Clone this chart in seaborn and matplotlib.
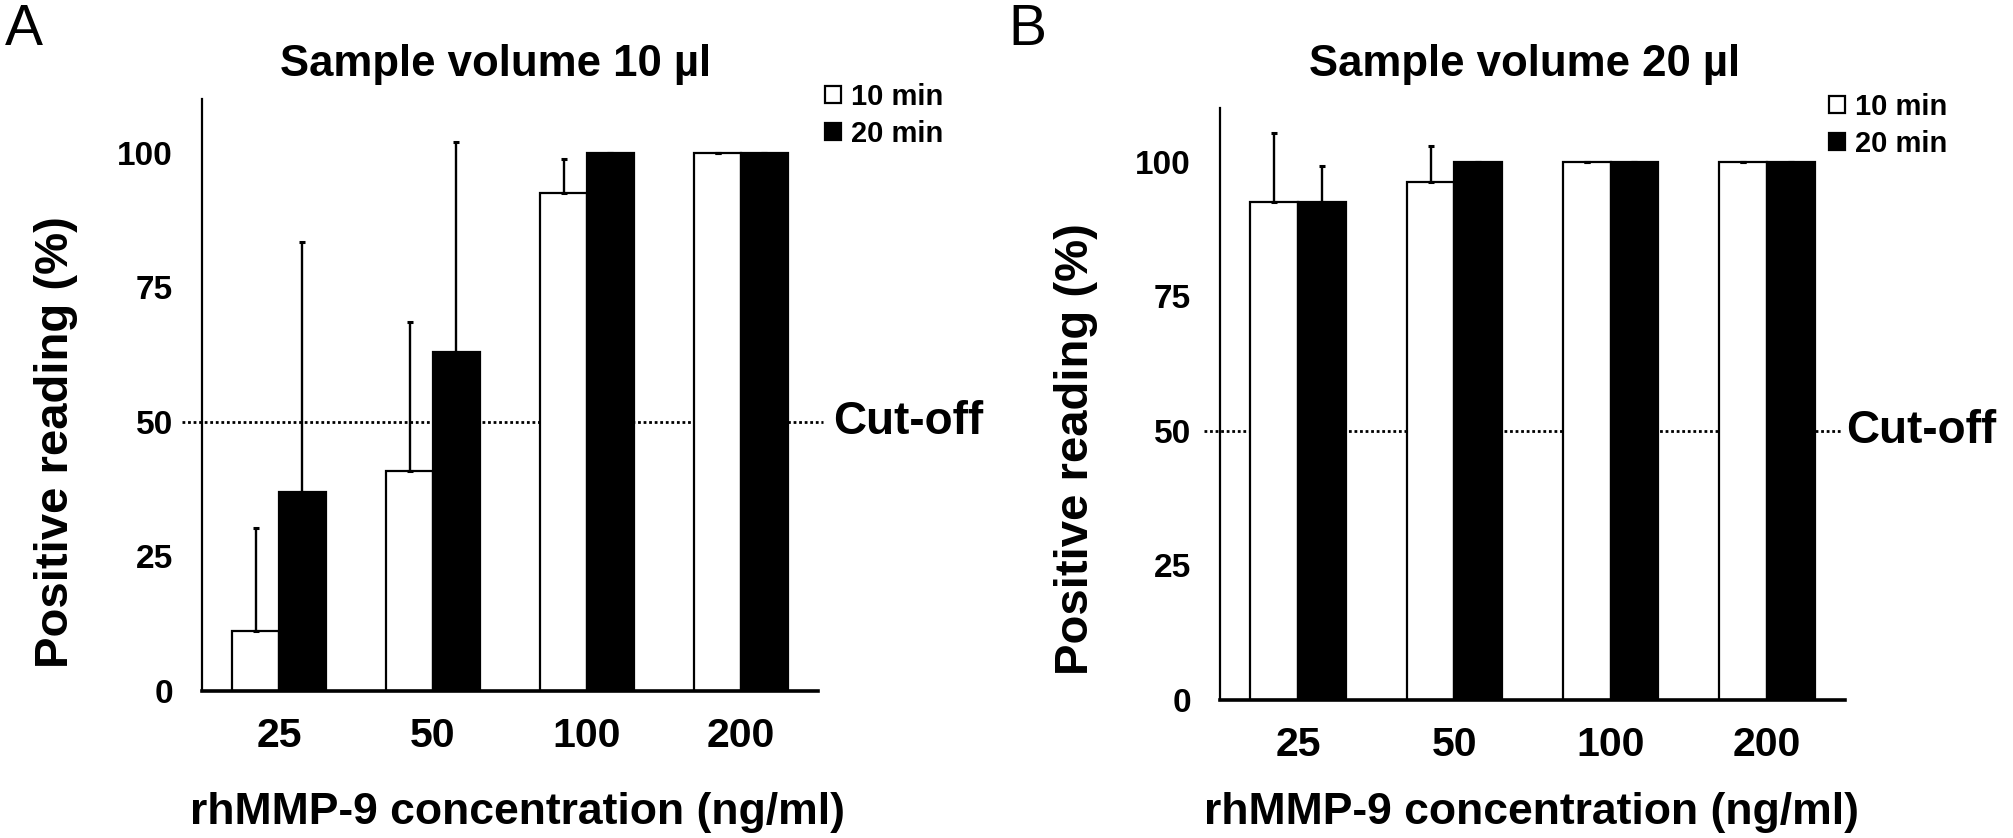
import numpy as np
import pandas as pd
import matplotlib
matplotlib.use("Agg")
import matplotlib.pyplot as plt
import seaborn as sns

# ---------------- data ----------------
concentrations = ["25", "50", "100", "200"]
times = ["10 min", "20 min"]

a_10min = [11.2, 40.8, 92.6, 100.0]
a_10min_err = [19.0, 27.7, 6.2, 0.0]
a_20min = [37.0, 62.9, 100.0, 100.0]
a_20min_err = [46.5, 39.1, 0.0, 0.0]

b_10min = [92.6, 96.3, 100.0, 100.0]
b_10min_err = [12.8, 6.6, 0.0, 0.0]
b_20min = [92.6, 100.0, 100.0, 100.0]
b_20min_err = [6.7, 0.0, 0.0, 0.0]

titles = ["Sample volume 10 \u00b5l", "Sample volume 20 \u00b5l"]
panel_letters = ["A", "B"]
y_ticks = [0, 25, 50, 75, 100]
cutoff_value = 50
cutoff_label = "Cut-off"
x_label = "rhMMP-9 concentration (ng/ml)"
y_label = "Positive reading (%)"

# ---------------- style ----------------
sns.set_theme(style="white")
plt.rcParams["font.family"] = ["Liberation Sans", "DejaVu Sans"]
plt.rcParams["font.weight"] = "bold"
for k in ["text.color", "axes.labelcolor", "xtick.color", "ytick.color", "axes.edgecolor"]:
    plt.rcParams[k] = "black"

W, H = 2013, 838
fig = plt.figure(figsize=(W / 100, H / 100), dpi=100)

def fx(px):
    return px / W

def fy(py):
    return 1 - py / H

panels = [
    dict(rect=(202, 99, 818, 691), v10=a_10min, e10=a_10min_err, v20=a_20min, e20=a_20min_err,
         title_x=496, letter_x=5, cut_x0=-0.63, cut_x1=3.53, cut_tx=3.60,
         leg=(825, 83), ylab=(56, 442), xlab=(518, 812)),
    dict(rect=(1220, 108, 1845, 700), v10=b_10min, e10=b_10min_err, v20=b_20min, e20=b_20min_err,
         title_x=1525, letter_x=1008, cut_x0=-0.60, cut_x1=3.48, cut_tx=3.51,
         leg=(1829, 93), ylab=(1076, 449), xlab=(1532, 812)),
]

for i, p in enumerate(panels):
    x0, y0, x1, y1 = p["rect"]
    ax = fig.add_axes([fx(x0), fy(y1), fx(x1) - fx(x0), (y1 - y0) / H])
    df = pd.DataFrame({
        "conc": concentrations * 2,
        "time": [times[0]] * 4 + [times[1]] * 4,
        "value": list(p["v10"]) + list(p["v20"]),
    })
    sns.barplot(data=df, x="conc", y="value", hue="time", order=concentrations,
                hue_order=times, palette=["white", "black"], edgecolor="black",
                linewidth=1.6, width=0.61, gap=0, errorbar=None, ax=ax, zorder=2)
    errs = [p["e10"], p["e20"]]
    for cont, err in zip(ax.containers, errs):
        xs = [r.get_x() + r.get_width() / 2 for r in cont.patches]
        ys = [r.get_height() for r in cont.patches]
        ax.errorbar(xs, ys, yerr=[np.zeros(len(err)), err], fmt="none", ecolor="black",
                    elinewidth=1.7, capsize=2.2, capthick=2.2, zorder=3)

    ax.set_xlim(-0.5, 3.5)
    ax.set_ylim(0, 110)
    ax.set_yticks(y_ticks)
    ax.set_yticklabels([str(t) for t in y_ticks])
    ax.tick_params(axis="y", length=0, pad=21, labelsize=24, labelcolor="black")
    ax.tick_params(axis="x", length=0, pad=19, labelsize=29.5, labelcolor="black")
    for lab in ax.get_xticklabels() + ax.get_yticklabels():
        lab.set_fontweight("bold")
    for s in ["top", "right"]:
        ax.spines[s].set_visible(False)
    ax.spines["left"].set_linewidth(1.6)
    ax.spines["left"].set_color("black")
    ax.spines["bottom"].set_linewidth(2.6)
    ax.spines["bottom"].set_color("black")
    ax.set_xlabel("")
    ax.set_ylabel("")

    # cut-off line
    ax.plot([p["cut_x0"], p["cut_x1"]], [cutoff_value, cutoff_value], color="black",
            linestyle=(0, (1, 1.0)), linewidth=2.0, zorder=1, clip_on=False)
    ax.text(p["cut_tx"], cutoff_value, cutoff_label, fontsize=33, fontweight="bold",
            color="black", ha="left", va="center", clip_on=False)

    # legend
    lx, ly = p["leg"]
    sns.move_legend(ax, loc="upper left", bbox_to_anchor=(fx(lx), fy(ly)),
                    bbox_transform=fig.transFigure, frameon=False, title=None,
                    fontsize=21, handlelength=0.55, handleheight=0.55,
                    handletextpad=0.35, labelspacing=0.3, borderpad=0, borderaxespad=0)
    leg = ax.get_legend()
    for t in leg.get_texts():
        t.set_fontweight("bold")
        t.set_color("black")
    for h in leg.legend_handles:
        h.set_edgecolor("black")
        h.set_linewidth(1.6)

    # labels
    fig.text(fx(p["xlab"][0]), fy(p["xlab"][1]), x_label, fontsize=32, fontweight="bold",
             color="black", ha="center", va="center")
    fig.text(fx(p["ylab"][0]), fy(p["ylab"][1]), y_label, fontsize=34, fontweight="bold",
             color="black", ha="center", va="center", rotation=90)
    fig.text(fx(p["title_x"]), fy(76), titles[i], fontsize=31.5, fontweight="bold",
             color="black", ha="center", va="baseline")
    fig.text(fx(p["letter_x"]), fy(45), panel_letters[i], fontsize=41, fontweight="normal",
             color="black", ha="left", va="baseline")

fig.savefig("out.png", dpi=100, facecolor="white")
